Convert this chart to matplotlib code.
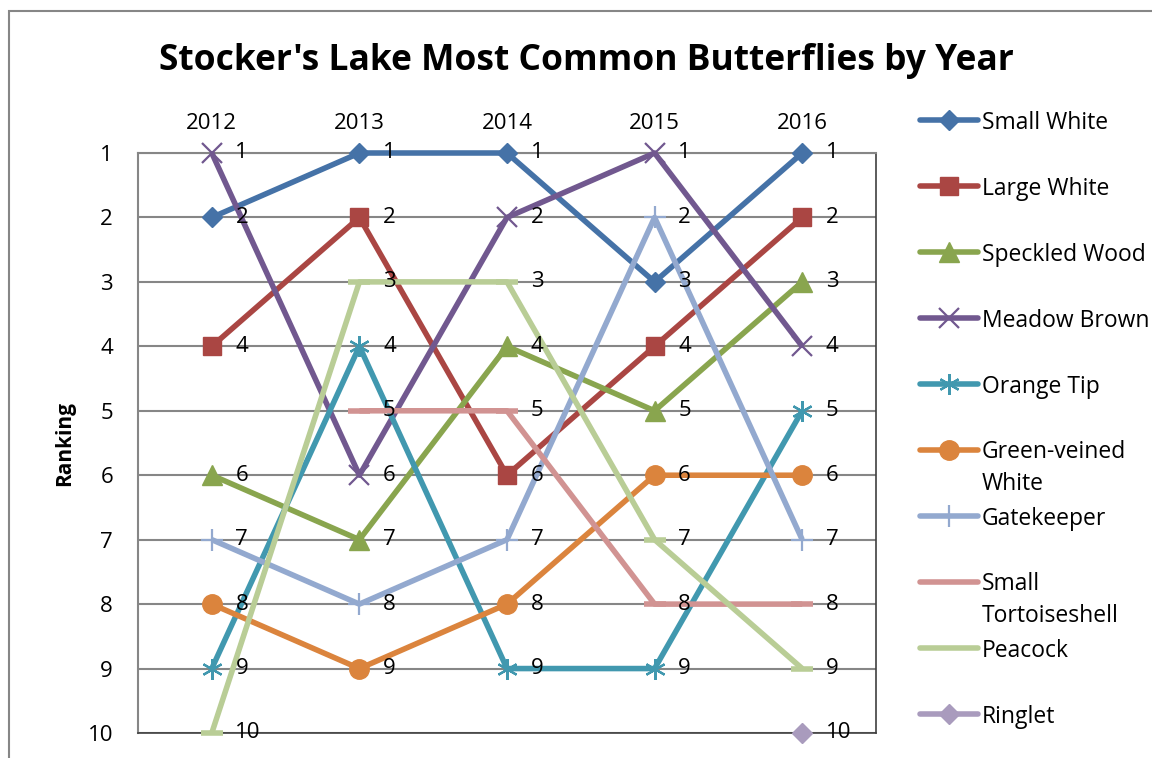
import numpy as np
import matplotlib.pyplot as plt
from matplotlib.lines import Line2D
from matplotlib.patches import Rectangle

plt.rcParams['font.family'] = ['Open Sans', 'DejaVu Sans']

years = ['2012', '2013', '2014', '2015', '2016']
names = ['Small White', 'Large White', 'Speckled Wood', 'Meadow Brown', 'Orange Tip',
         'Green-veined\nWhite', 'Gatekeeper', 'Small\nTortoiseshell', 'Peacock', 'Ringlet']
nan = np.nan
small_white = [2, 1, 1, 3, 1]
large_white = [4, 2, 6, 4, 2]
speckled_wood = [6, 7, 4, 5, 3]
meadow_brown = [1, 6, 2, 1, 4]
orange_tip = [9, 4, 9, 9, 5]
green_veined = [8, 9, 8, 6, 6]
gatekeeper = [7, 8, 7, 2, 7]
small_tortoiseshell = [nan, 5, 5, 8, 8]
peacock = [10, 3, 3, 7, 9]
ringlet = [nan, nan, nan, nan, 10]
ranks = [small_white, large_white, speckled_wood, meadow_brown, orange_tip,
         green_veined, gatekeeper, small_tortoiseshell, peacock, ringlet]

colors = ['#4572A7', '#AA4643', '#89A54E', '#71588F', '#4198AF',
          '#DB843D', '#93A9CF', '#D19392', '#B9CD96', '#A99BBD']
markers = ['D', 's', '^', 'x', (6, 2, 0), 'o', '+', '_', '_', 'D']
msizes = [10, 13, 14, 14, 15, 14, 16, 16, 16, 10]
mews = [1, 1, 1, 1.6, 1.6, 1, 1.6, 4, 4, 1]

fig = plt.figure(figsize=(11.52, 7.58), dpi=100)
ax = fig.add_axes([138 / 1152, 1 - 733 / 758, 738 / 1152, 580 / 758])

x = np.arange(len(years))
for i, vals in enumerate(ranks):
    v = np.array(vals, dtype=float)
    ax.plot(x, v, color=colors[i], lw=4, marker=markers[i], ms=msizes[i],
            mew=mews[i], mec=colors[i], mfc=colors[i], clip_on=False,
            solid_capstyle='butt', zorder=3 + i * 0.1)
    for xi, vi in zip(x, v):
        if not np.isnan(vi):
            ax.annotate(str(int(vi)), (xi, vi), xytext=(17, 0), textcoords='offset points',
                        ha='left', va='center', fontsize=16, zorder=10)

ax.set_xlim(-0.5, len(years) - 0.5)
ax.set_ylim(10, 1)
ax.set_yticks(range(1, 11))
ax.set_xticks(x)
ax.set_xticklabels(years)
ax.xaxis.tick_top()
ax.tick_params(axis='both', length=0, labelsize=16)
ax.tick_params(axis='y', pad=18)
ax.tick_params(axis='x', pad=14)
ax.yaxis.grid(True, color='#868686', lw=1.5)
ax.set_axisbelow(True)
for side in ['left', 'top']:
    ax.spines[side].set_color('#868686')
    ax.spines[side].set_linewidth(1.5)
for side in ['right', 'bottom']:
    ax.spines[side].set_color('#404040')
    ax.spines[side].set_linewidth(1.2)

ax.set_ylabel('Ranking', fontsize=15, fontweight='bold', labelpad=9)
fig.text(586 / 1152, 1 - 61 / 758, "Stocker's Lake Most Common Butterflies by Year",
         ha='center', va='center', fontsize=25.5, fontweight='bold')

# manual legend
leg_y = [120, 186, 252, 318, 384, 450, 516, 582, 648, 714]
for i, name in enumerate(names):
    yf = 1 - leg_y[i] / 758
    fig.add_artist(Line2D([920 / 1152, 978 / 1152], [yf, yf], color=colors[i], lw=4,
                          solid_capstyle='round', transform=fig.transFigure))
    if markers[i] != '_':
        fig.add_artist(Line2D([949 / 1152], [yf], color=colors[i], marker=markers[i],
                              ms=msizes[i], mew=mews[i], mec=colors[i], mfc=colors[i],
                              transform=fig.transFigure))
    if '\n' in name:
        fig.text(982 / 1152, 1 - (leg_y[i] - 10) / 758, name, ha='left', va='top',
                 fontsize=16.5, linespacing=1.45)
    else:
        fig.text(982 / 1152, yf, name, ha='left', va='center_baseline', fontsize=16.5)

# outer chart border
fig.add_artist(Rectangle((9 / 1152, -0.1), 1.2, 1 - 11 / 758 + 0.1, fill=False,
                         edgecolor='#868686', lw=1.5, transform=fig.transFigure))

fig.savefig('out.png', dpi=100)
